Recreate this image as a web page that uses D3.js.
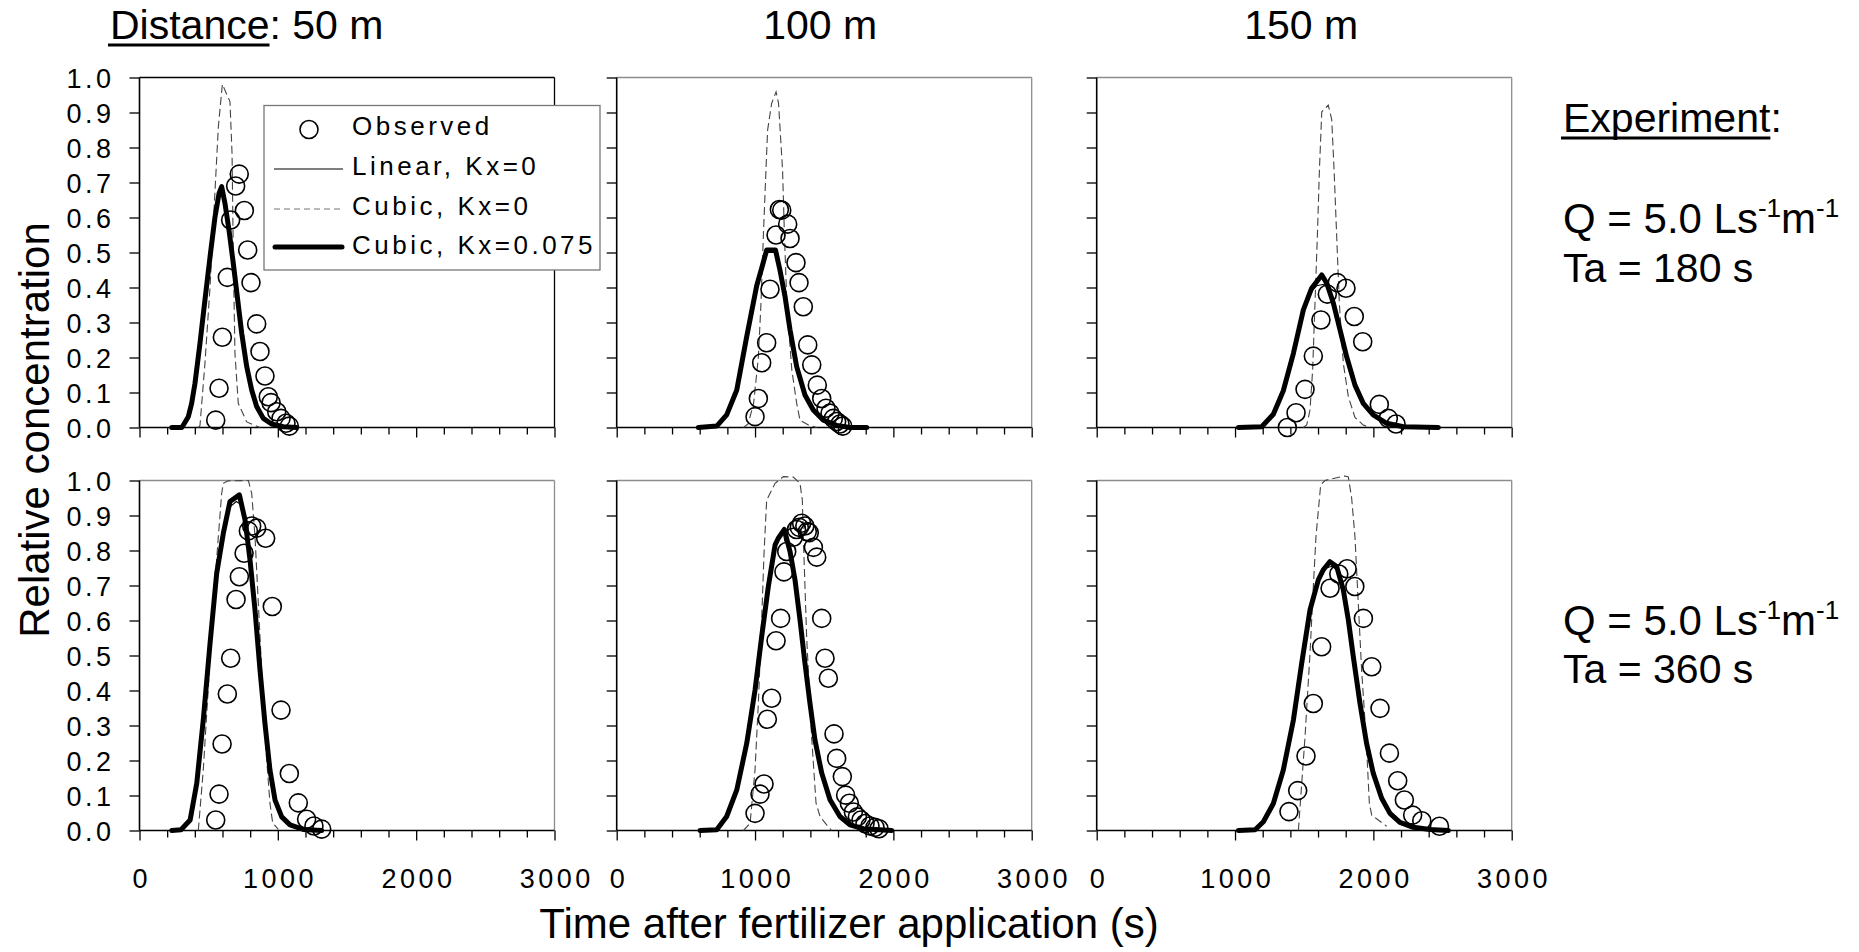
<!DOCTYPE html>
<html><head><meta charset="utf-8">
<script src="https://cdn.jsdelivr.net/npm/d3@7"></script>
<style>
html,body{margin:0;padding:0;background:#fff;}
svg{display:block;}
text{font-family:"Liberation Sans",Arial,Helvetica,sans-serif;fill:#000;}
</style></head><body>
<svg id="chart" width="1859" height="952"></svg>
<script>
// ---------------- DATA ----------------
const distances = ["50 m", "100 m", "150 m"];
const applicationTimes = ["180 s", "360 s"];
const flowRate = "5.0";
const xTickValues = [0, 200, 400, 600, 800, 1000, 1200, 1400, 1600, 1800, 2000, 2200, 2400, 2600, 2800, 3000];
const xTickLabels = [0, 1000, 2000, 3000];
const yTickValues = [0, 0.1, 0.2, 0.3, 0.4, 0.5, 0.6, 0.7, 0.8, 0.9, 1.0];
const legendLabels = ["Observed", "Linear, Kx=0", "Cubic, Kx=0", "Cubic, Kx=0.075"];
const xTitle = "Time after fertilizer application (s)";
const yTitle = "Relative concentration";

// Ta = 180 s
const obs_50_180 = [[551,0.021],[575,0.112],[599,0.258],[635,0.429],[659,0.593],[695,0.690],[721,0.724],[758,0.620],[782,0.507],[806,0.414],[847,0.296],[871,0.217],[907,0.147],[931,0.088],[951,0.071],[992,0.045],[1023,0.026],[1059,0.012],[1083,0.004]];
const lin_50_180 = [[233,0],[305,0.002],[353,0.03],[401,0.125],[437,0.24],[473,0.365],[510,0.49],[546,0.6],[575,0.665],[594,0.68],[618,0.64],[647,0.565],[678,0.47],[707,0.375],[739,0.27],[775,0.175],[811,0.108],[847,0.06],[895,0.026],[955,0.01],[1040,0.002],[1136,0]];
const cub0_50_180 = [[425,0],[437,0.005],[473,0.183],[510,0.402],[541,0.64],[570,0.859],[599,0.981],[654,0.931],[669,0.783],[678,0.498],[690,0.212],[714,0.069],[775,0.016],[871,0]];
const cubK_50_180 = [[233,0],[305,0],[317,0.007],[353,0.031],[377,0.069],[401,0.126],[437,0.24],[473,0.364],[510,0.488],[546,0.602],[575,0.669],[594,0.688],[618,0.64],[647,0.564],[678,0.469],[707,0.374],[739,0.269],[775,0.174],[811,0.107],[847,0.06],[895,0.026],[955,0.01],[1040,0.002],[1136,0]];

const obs_100_180 = [[1000,0.031],[1024,0.083],[1048,0.185],[1084,0.242],[1108,0.395],[1152,0.55],[1176,0.623],[1193,0.621],[1236,0.581],[1253,0.54],[1296,0.471],[1318,0.414],[1349,0.345],[1381,0.236],[1410,0.179],[1450,0.121],[1482,0.083],[1513,0.055],[1542,0.041],[1566,0.026],[1590,0.017],[1614,0.010],[1634,0.004]];
const lin_100_180 = [[590,0],[723,0.004],[795,0.036],[868,0.11],[940,0.262],[1012,0.405],[1084,0.5],[1152,0.5],[1217,0.372],[1301,0.175],[1361,0.094],[1421,0.05],[1494,0.021],[1590,0.006],[1686,0],[1807,0]];
const cub0_100_180 = [[916,0],[950,0.01],[990,0.07],[1024,0.2],[1043,0.355],[1060,0.545],[1079,0.736],[1091,0.85],[1120,0.926],[1152,0.959],[1170,0.926],[1199,0.736],[1213,0.545],[1230,0.355],[1266,0.164],[1301,0.069],[1325,0.021],[1386,0.007],[1446,0]];
const cubK_100_180 = [[590,0],[723,0.004],[795,0.036],[868,0.107],[940,0.26],[1012,0.405],[1048,0.455],[1084,0.507],[1148,0.507],[1180,0.45],[1217,0.374],[1253,0.279],[1301,0.174],[1361,0.093],[1421,0.05],[1494,0.021],[1590,0.006],[1686,0],[1807,0]];

const obs_150_180 = [[1378,0.0],[1441,0.042],[1506,0.109],[1566,0.204],[1621,0.307],[1667,0.381],[1739,0.414],[1802,0.398],[1862,0.317],[1923,0.245],[2043,0.066],[2108,0.026],[2164,0.01]];
const lin_150_180 = [[1024,0],[1193,0.002],[1277,0.038],[1349,0.105],[1422,0.21],[1494,0.33],[1554,0.39],[1590,0.405],[1650,0.41],[1690,0.39],[1711,0.355],[1759,0.279],[1807,0.202],[1867,0.121],[1927,0.069],[1999,0.036],[2096,0.012],[2217,0.002],[2470,0]];
const cub0_150_180 = [[1494,0],[1518,0.007],[1542,0.05],[1561,0.164],[1578,0.355],[1595,0.545],[1610,0.736],[1627,0.902],[1674,0.921],[1699,0.88],[1716,0.736],[1735,0.545],[1754,0.355],[1783,0.183],[1819,0.088],[1867,0.029],[1927,0.007],[1975,0]];
const cubK_150_180 = [[1024,0],[1193,0.002],[1277,0.038],[1349,0.105],[1422,0.212],[1494,0.336],[1554,0.398],[1627,0.436],[1663,0.412],[1711,0.355],[1759,0.279],[1807,0.202],[1867,0.121],[1927,0.069],[1999,0.036],[2096,0.012],[2217,0.002],[2470,0]];

// Ta = 360 s
const obs_50_360 = [[551,0.03],[575,0.104],[597,0.247],[635,0.39],[659,0.492],[698,0.66],[722,0.725],[756,0.792],[787,0.856],[811,0.87],[847,0.864],[912,0.835],[960,0.64],[1023,0.344],[1083,0.163],[1148,0.079],[1208,0.032],[1261,0.013],[1317,0.004]];
const lin_50_360 = [[233,0],[300,0.002],[366,0.03],[414,0.135],[461,0.316],[510,0.535],[558,0.73],[606,0.845],[654,0.925],[700,0.94],[740,0.93],[763,0.885],[799,0.773],[835,0.63],[871,0.459],[907,0.306],[943,0.173],[980,0.087],[1028,0.039],[1088,0.016],[1184,0.003],[1317,0]];
const cub0_50_360 = [[425,0],[461,0.173],[498,0.411],[534,0.649],[570,0.84],[594,0.963],[606,0.992],[642,0.999],[787,1.0],[811,0.963],[835,0.84],[859,0.649],[883,0.459],[907,0.268],[943,0.078],[963,0.021],[1004,0.003]];
const cubK_50_360 = [[233,0],[300,0.002],[366,0.03],[414,0.135],[461,0.316],[510,0.535],[558,0.735],[606,0.849],[654,0.94],[722,0.959],[763,0.887],[799,0.773],[835,0.63],[871,0.459],[907,0.306],[943,0.173],[980,0.087],[1028,0.039],[1088,0.016],[1184,0.003],[1317,0]];

const obs_100_360 = [[1000,0.049],[1036,0.104],[1065,0.133],[1089,0.318],[1120,0.378],[1152,0.542],[1185,0.606],[1209,0.739],[1229,0.797],[1277,0.838],[1300,0.86],[1320,0.866],[1337,0.878],[1360,0.87],[1378,0.854],[1392,0.851],[1422,0.809],[1446,0.781],[1482,0.606],[1506,0.492],[1530,0.435],[1571,0.276],[1590,0.206],[1631,0.154],[1655,0.101],[1682,0.078],[1711,0.053],[1740,0.039],[1766,0.03],[1795,0.02],[1831,0.013],[1867,0.009],[1896,0.005]];
const lin_100_360 = [[602,0],[723,0.002],[795,0.04],[868,0.116],[940,0.25],[1000,0.4],[1048,0.55],[1096,0.69],[1145,0.81],[1200,0.855],[1253,0.795],[1289,0.716],[1325,0.602],[1361,0.478],[1397,0.364],[1433,0.259],[1482,0.164],[1542,0.088],[1614,0.04],[1686,0.016],[1783,0.005],[1988,0]];
const cub0_100_360 = [[916,0],[964,0.02],[1000,0.173],[1024,0.364],[1048,0.602],[1065,0.792],[1084,0.944],[1145,0.992],[1205,1.011],[1277,1.01],[1325,0.992],[1342,0.944],[1349,0.839],[1373,0.554],[1409,0.268],[1441,0.078],[1470,0.04],[1518,0.016],[1554,0]];
const cubK_100_360 = [[602,0],[723,0.002],[795,0.04],[868,0.116],[940,0.249],[1000,0.401],[1048,0.554],[1096,0.697],[1145,0.816],[1168,0.835],[1212,0.86],[1253,0.797],[1289,0.716],[1325,0.602],[1361,0.478],[1397,0.364],[1433,0.259],[1482,0.164],[1542,0.088],[1614,0.04],[1686,0.016],[1783,0.005],[1988,0]];

const obs_150_360 = [[1390,0.054],[1453,0.114],[1513,0.213],[1566,0.363],[1626,0.525],[1687,0.692],[1750,0.733],[1810,0.748],[1866,0.697],[1928,0.606],[1988,0.468],[2048,0.349],[2116,0.221],[2176,0.142],[2224,0.087],[2284,0.044],[2350,0.028],[2478,0.012]];
const lin_150_360 = [[1024,0],[1145,0.002],[1205,0.025],[1277,0.077],[1349,0.173],[1422,0.316],[1482,0.475],[1542,0.625],[1602,0.71],[1660,0.75],[1700,0.755],[1735,0.745],[1783,0.687],[1819,0.602],[1855,0.497],[1903,0.364],[1951,0.249],[1999,0.164],[2060,0.092],[2120,0.049],[2192,0.023],[2289,0.009],[2409,0.003],[2542,0]];
const cub0_150_360 = [[1458,0],[1506,0.268],[1542,0.506],[1566,0.697],[1585,0.839],[1619,0.987],[1650,1.0],[1700,1.005],[1795,1.013],[1819,1.01],[1843,0.95],[1867,0.839],[1891,0.649],[1915,0.459],[1947,0.268],[1971,0.078],[1988,0.044],[2096,0.012]];
const cubK_150_360 = [[1024,0],[1145,0.002],[1205,0.025],[1277,0.077],[1349,0.173],[1422,0.316],[1482,0.478],[1542,0.63],[1602,0.716],[1638,0.745],[1686,0.768],[1735,0.754],[1783,0.687],[1819,0.602],[1855,0.497],[1903,0.364],[1951,0.249],[1999,0.164],[2060,0.092],[2120,0.049],[2192,0.023],[2289,0.009],[2409,0.003],[2542,0]];

const panels = [
  [{obs:obs_50_180, lin:lin_50_180, cub0:cub0_50_180, cubK:cubK_50_180},
   {obs:obs_100_180, lin:lin_100_180, cub0:cub0_100_180, cubK:cubK_100_180},
   {obs:obs_150_180, lin:lin_150_180, cub0:cub0_150_180, cubK:cubK_150_180}],
  [{obs:obs_50_360, lin:lin_50_360, cub0:cub0_50_360, cubK:cubK_50_360},
   {obs:obs_100_360, lin:lin_100_360, cub0:cub0_100_360, cubK:cubK_100_360},
   {obs:obs_150_360, lin:lin_150_360, cub0:cub0_150_360, cubK:cubK_150_360}]
];

// ---------------- LAYOUT ----------------
const colLeft = [139.5, 616.7, 1096.7];
const rowTop = [77.5, 480.5];
const pw = 415, ph = 350;
const FONT = '"Liberation Sans", Arial, Helvetica, sans-serif';
const svg = d3.select("#chart");

const x = d3.scaleLinear().domain([0, 3000]).range([0, pw]);
const y = d3.scaleLinear().domain([0, 1]).range([ph, 0]);
const line = d3.line().x(d => x(d[0])).y(d => y(d[1]));

panels.forEach((row, r) => {
  row.forEach((p, c) => {
    const g = svg.append("g").attr("transform", `translate(${colLeft[c]},${rowTop[r]})`);
    const frameColor = (r === 0 && c === 0) ? "#000" : "#8c8c8c";
    g.append("line").attr("x1", 0).attr("x2", pw).attr("y1", 0).attr("y2", 0)
      .attr("stroke", frameColor).attr("stroke-width", 1.3);
    g.append("line").attr("x1", pw).attr("x2", pw).attr("y1", 0).attr("y2", ph)
      .attr("stroke", frameColor).attr("stroke-width", 1.3);

    // x axis
    const xa = g.append("g").attr("transform", `translate(0,${ph})`)
      .call(d3.axisBottom(x).tickValues(xTickValues).tickSize(7)
        .tickFormat(d => (r === 1 && xTickLabels.includes(d)) ? String(d) : ""));
    xa.select(".domain").remove();
    xa.selectAll(".tick line").attr("stroke", "#000").attr("stroke-width", 1.3)
      .attr("y2", d => xTickLabels.includes(d) ? 10 : 7);
    xa.selectAll(".tick text").attr("y", 57).attr("dy", 0).attr("x", 1.75)
      .attr("font-size", 27).attr("font-family", FONT).attr("letter-spacing", 3.5)
      .attr("fill", "#000");

    // y axis
    const ya = g.append("g")
      .call(d3.axisLeft(y).tickValues(yTickValues).tickSize(10)
        .tickFormat(c === 0 ? d3.format(".1f") : () => ""));
    ya.select(".domain").remove();
    ya.selectAll(".tick line").attr("stroke", "#000").attr("stroke-width", 1.3);
    ya.selectAll(".tick text").attr("x", -25).attr("dy", "0.36em")
      .attr("font-size", 27).attr("font-family", FONT).attr("letter-spacing", 3.5)
      .attr("fill", "#000");

    // axis lines
    g.append("line").attr("x1", 0).attr("x2", 0).attr("y1", 0).attr("y2", ph)
      .attr("stroke", "#000").attr("stroke-width", 1.6);
    g.append("line").attr("x1", 0).attr("x2", pw).attr("y1", ph).attr("y2", ph)
      .attr("stroke", "#000").attr("stroke-width", 1.6);

    // series
    g.append("path").datum(p.cub0).attr("d", line).attr("fill", "none")
      .attr("stroke", "#444").attr("stroke-width", 1.1).attr("stroke-dasharray", "8,4");
    g.append("path").datum(p.lin).attr("d", line).attr("fill", "none")
      .attr("stroke", "#000").attr("stroke-width", 1.1);
    g.append("path").datum(p.cubK).attr("d", line).attr("fill", "none")
      .attr("stroke", "#000").attr("stroke-width", 5)
      .attr("stroke-linejoin", "round").attr("stroke-linecap", "round");
    g.selectAll("circle.obs").data(p.obs).enter().append("circle").attr("class", "obs")
      .attr("cx", d => x(d[0])).attr("cy", d => y(d[1])).attr("r", 9)
      .attr("fill", "none").attr("stroke", "#000").attr("stroke-width", 1.6);
  });
});

// ---------------- LEGEND ----------------
const lg = svg.append("g");
lg.append("rect").attr("x", 264).attr("y", 105.5).attr("width", 336).attr("height", 164.5)
  .attr("fill", "#fff").attr("stroke", "#777").attr("stroke-width", 1.3);
const legendY = [135, 175, 215, 254];
lg.append("circle").attr("cx", 309).attr("cy", legendY[0] - 5.5).attr("r", 9)
  .attr("fill", "none").attr("stroke", "#000").attr("stroke-width", 1.6);
lg.append("line").attr("x1", 274).attr("x2", 343).attr("y1", legendY[1] - 6).attr("y2", legendY[1] - 6)
  .attr("stroke", "#000").attr("stroke-width", 1.1);
lg.append("line").attr("x1", 274).attr("x2", 343).attr("y1", legendY[2] - 6).attr("y2", legendY[2] - 6)
  .attr("stroke", "#777").attr("stroke-width", 1.2).attr("stroke-dasharray", "6,4");
lg.append("line").attr("x1", 275).attr("x2", 342).attr("y1", legendY[3] - 7).attr("y2", legendY[3] - 7)
  .attr("stroke", "#000").attr("stroke-width", 5).attr("stroke-linecap", "round");
legendLabels.forEach((t, i) => {
  lg.append("text").attr("x", 352).attr("y", legendY[i]).attr("font-size", 26)
    .attr("letter-spacing", 3.5).text(t);
});

// ---------------- TITLES ----------------
function underlined(xPos, yPos, first, rest) {
  const t1 = svg.append("text").attr("x", xPos).attr("y", yPos).attr("font-size", 41).text(first);
  const w = t1.node().getComputedTextLength();
  svg.append("line").attr("x1", xPos - 2).attr("x2", xPos + w).attr("y1", yPos + 6).attr("y2", yPos + 6)
    .attr("stroke", "#000").attr("stroke-width", 3);
  svg.append("text").attr("x", xPos + w).attr("y", yPos).attr("font-size", 41).text(rest);
}
underlined(110, 39, "Distance", ": " + distances[0]);
svg.append("text").attr("x", colLeft[1] + pw / 2 - 4).attr("y", 39).attr("font-size", 41)
  .attr("text-anchor", "middle").text(distances[1]);
svg.append("text").attr("x", colLeft[2] + pw / 2 - 3).attr("y", 39).attr("font-size", 41)
  .attr("text-anchor", "middle").text(distances[2]);

underlined(1563, 132, "Experiment", ":");

function qLabel(yPos) {
  const t = svg.append("text").attr("x", 1563).attr("y", yPos).attr("font-size", 42);
  t.append("tspan").text("Q = " + flowRate + " Ls");
  t.append("tspan").attr("font-size", 26).attr("dy", -16).text("-1");
  t.append("tspan").attr("dy", 16).text("m");
  t.append("tspan").attr("font-size", 26).attr("dy", -16).text("-1");
}
qLabel(233);
svg.append("text").attr("x", 1563).attr("y", 282).attr("font-size", 41).text("Ta = " + applicationTimes[0]);
qLabel(635);
svg.append("text").attr("x", 1563).attr("y", 683).attr("font-size", 41).text("Ta = " + applicationTimes[1]);

svg.append("text").attr("x", 849).attr("y", 938).attr("font-size", 42)
  .attr("text-anchor", "middle").text(xTitle);
svg.append("text").attr("transform", "translate(49,430) rotate(-90)").attr("font-size", 42)
  .attr("text-anchor", "middle").text(yTitle);
</script>
</body></html>
